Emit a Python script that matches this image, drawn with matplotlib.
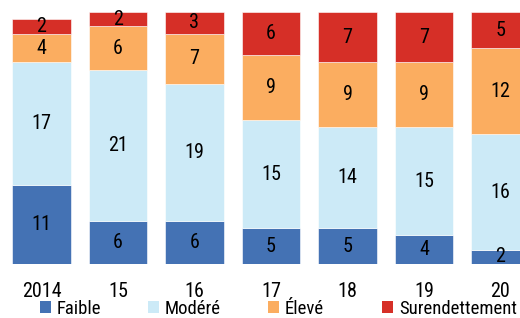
import matplotlib
matplotlib.use("Agg")
import matplotlib.pyplot as plt
from matplotlib.patches import Patch

years = ["2014", "15", "16", "17", "18", "19", "20"]
faible = [11, 6, 6, 5, 5, 4, 2]
modere = [17, 21, 19, 15, 14, 15, 16]
eleve = [4, 6, 7, 9, 9, 9, 12]
surendettement = [2, 2, 3, 6, 7, 7, 5]

series = [("Faible", faible, "#4472b4"),
          ("Modéré", modere, "#cceaf7"),
          ("Élevé", eleve, "#fbad60"),
          ("Surendettement", surendettement, "#d62f27")]

# narrow sans, like the original Arial Narrow
plt.rcParams['font.family'] = ['Liberation Sans Narrow', 'Roboto Condensed',
                               'Archivo Narrow', 'Liberation Sans']
FS = 14.5

fig = plt.figure(figsize=(5.2, 3.18), dpi=100)
ax = fig.add_axes([0, 54 / 318, 1, 264 / 318])

x = list(range(len(years)))
bottom = [0] * len(years)
for name, vals, color in series:
    ax.bar(x, vals, width=0.771, bottom=bottom, color=color,
           edgecolor="white", linewidth=0.4)
    for i, v in enumerate(vals):
        ax.text(x[i], bottom[i] + v / 2, str(v), ha="center", va="center",
                fontsize=FS, color="black")
    bottom = [b + v for b, v in zip(bottom, vals)]

ax.set_xlim(-0.5425, 6.255)
ax.set_ylim(0, 36.67)
ax.set_xticks(x)
ax.set_xticklabels(years, fontsize=FS)
ax.tick_params(axis="x", length=0, pad=13)
ax.set_yticks([])
for s in ax.spines.values():
    s.set_visible(False)

# one legend per entry so the spacing follows the original
legend_x = [40, 148, 268, 382]
for (name, _, color), lx in zip(series, legend_x):
    fig.legend([Patch(facecolor=color, edgecolor="none")], [name],
               loc="center left", bbox_to_anchor=(lx / 520, 1 - 309 / 318),
               frameon=False, fontsize=13.5, handlelength=0.6, handleheight=0.6,
               handletextpad=0.3, borderpad=0, borderaxespad=0)

fig.savefig("out.png", dpi=100)
